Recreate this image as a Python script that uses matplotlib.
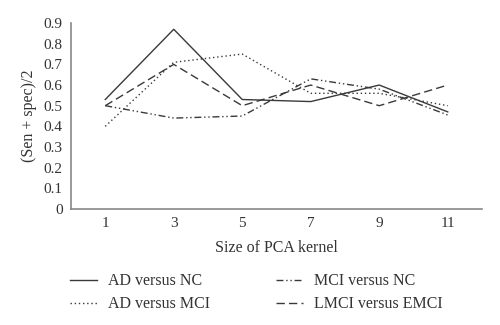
import matplotlib
matplotlib.use("Agg")
import matplotlib.pyplot as plt

kernel_sizes = [1, 3, 5, 7, 9, 11]
ad_nc = [0.53, 0.87, 0.53, 0.52, 0.60, 0.47]
ad_mci = [0.40, 0.71, 0.75, 0.56, 0.56, 0.50]
mci_nc = [0.50, 0.44, 0.45, 0.63, 0.58, 0.455]
lmci_emci = [0.50, 0.70, 0.50, 0.60, 0.50, 0.60]
yticks = [0, 0.1, 0.2, 0.3, 0.4, 0.5, 0.6, 0.7, 0.8, 0.9]
ytick_labels = ["0", "0.1", "0.2", "0.3", "0.4", "0.5", "0.6", "0.7", "0.8", "0.9"]

plt.rcParams['font.family'] = ['Liberation Serif', 'DejaVu Serif']

fig = plt.figure(figsize=(5, 3.25), dpi=100)
ax = fig.add_axes([0.142, 0.357, 0.822, 0.572])

lc = '#3a3a3a'
ax.plot(kernel_sizes, ad_nc, color=lc, lw=1.0, linestyle='-', label='AD versus NC')
ax.plot(kernel_sizes, ad_mci, color=lc, lw=1.0, linestyle=(0, (1, 2)), label='AD versus MCI')
ax.plot(kernel_sizes, mci_nc, color=lc, lw=1.0, linestyle=(0, (5, 2, 1, 2, 1, 2)), label='MCI versus NC')
ax.plot(kernel_sizes, lmci_emci, color=lc, lw=1.0, linestyle=(0, (6, 3)), label='LMCI versus EMCI')

ax.set_xlim(0, 12)
ax.set_ylim(0, 0.9)
ax.set_xticks(kernel_sizes)
ax.set_xticklabels([str(k) for k in kernel_sizes])
ax.set_yticks(yticks)
ax.set_yticklabels(ytick_labels)
ax.tick_params(length=0, labelsize=11, colors='#333333', pad=6)
for s in ['top', 'right']:
    ax.spines[s].set_visible(False)
for s in ['left', 'bottom']:
    ax.spines[s].set_color('#888888')
    ax.spines[s].set_linewidth(1.2)

ax.set_xlabel('Size of PCA kernel', fontsize=11.5, color='#333333', labelpad=7)
ax.set_ylabel('(Sen + spec)/2', fontsize=11.5, color='#333333', labelpad=5)

handles, labels = ax.get_legend_handles_labels()
fig.legend(handles, labels, ncol=2,
           loc='upper left', bbox_to_anchor=(0.111, 0.203), frameon=False,
           fontsize=11.5, handlelength=1.7, handletextpad=0.7,
           columnspacing=4.1, labelspacing=0.42, labelcolor='#333333')

fig.savefig('out.png', dpi=100)
